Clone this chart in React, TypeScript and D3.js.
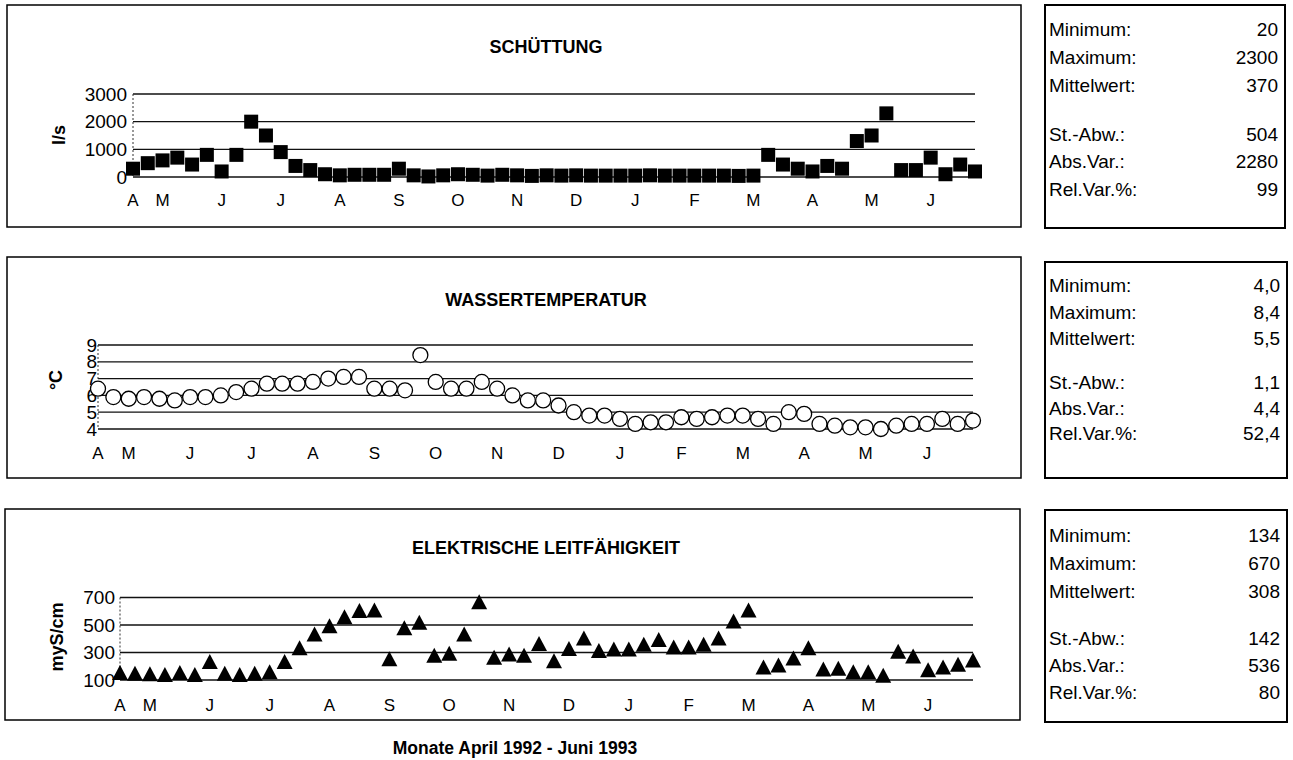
import React from 'react';
import * as d3 from 'd3';

// month labels on the category axis and the category index each one sits at
const monthLabels = ['A', 'M', 'J', 'J', 'A', 'S', 'O', 'N', 'D', 'J', 'F', 'M', 'A', 'M', 'J'];
const monthIndex = [0, 2, 6, 10, 14, 18, 22, 26, 30, 34, 38, 42, 46, 50, 54];

// Schüttung l/s
const schuettung = [
  300, 500, 600, 700, 450, 800, 200, 800, 2000, 1500, 900, 400, 250, 100, 60, 80, 80, 80, 300, 60,
  20, 60, 100, 80, 50, 80, 60, 40, 60, 50, 60, 50, 50, 50, 50, 60, 50, 50, 50, 50,
  50, 40, 50, 800, 450, 300, 200, 400, 300, 1300, 1500, 2300, 250, 250, 700, 100, 450, 200
];

// Wassertemperatur °C
const temperatur = [
  6.4, 5.9, 5.8, 5.9, 5.8, 5.7, 5.9, 5.9, 6.0, 6.2, 6.4, 6.7, 6.7, 6.7, 6.8, 7.0, 7.1, 7.1, 6.4, 6.4,
  6.3, 8.4, 6.8, 6.4, 6.4, 6.8, 6.4, 6.0, 5.7, 5.7, 5.4, 5.0, 4.8, 4.8, 4.6, 4.3, 4.4, 4.4, 4.7, 4.6,
  4.7, 4.8, 4.8, 4.6, 4.3, 5.0, 4.9, 4.3, 4.2, 4.1, 4.1, 4.0, 4.2, 4.3, 4.3, 4.6, 4.3, 4.5
];

// elektrische Leitfähigkeit myS/cm
const leitfaehigkeit = [
  155, 150, 145, 140, 155, 140, 235, 150, 140, 150, 160, 235, 335, 435, 495, 560, 605, 610, 255, 480,
  520, 280, 295, 435, 670, 265, 290, 280, 365, 240, 330, 405, 315, 325, 325, 360, 395, 340, 340, 360,
  405, 530, 610, 195, 210, 260, 335, 180, 185, 160, 160, 134, 310, 275, 175, 195, 215, 245
];

const ticksSchuettung = [0, 1000, 2000, 3000];
const ticksTemperatur = [4, 5, 6, 7, 8, 9];
const ticksLeitfaehigkeit = [100, 300, 500, 700];

const statLabels = ['Minimum:', 'Maximum:', 'Mittelwert:', 'St.-Abw.:', 'Abs.Var.:', 'Rel.Var.%:'];
const statsSchuettung = ['20', '2300', '370', '504', '2280', '99'];
const statsTemperatur = ['4,0', '8,4', '5,5', '1,1', '4,4', '52,4'];
const statsLeitfaehigkeit = ['134', '670', '308', '142', '536', '80'];

const FONT = '"Liberation Sans", Arial, Helvetica, sans-serif';

type Marker = 'square' | 'circle' | 'triangle';

type PanelProps = {
  title: string;
  unit: string;
  values: number[];
  ticks: number[];
  marker: Marker;
  box: [number, number, number, number]; // x0 y0 x1 y1
  plot: [number, number, number, number]; // x0 x1 yTop yBottom
  titleY: number;
  unitX: number;
  unitY: number;
  labelY: number;
  tickRight: number;
  stats: string[];
  statBox: [number, number, number, number];
  statRows: number[];
};

function Panel(p: PanelProps) {
  const [px0, px1, py0, py1] = p.plot;
  const x = d3.scalePoint<number>().domain(d3.range(p.values.length)).range([px0, px1]);
  const y = d3.scaleLinear().domain(d3.extent(p.ticks) as [number, number]).range([py1, py0]);
  const titleX = 546;

  const markers = p.values.map((v, i) => {
    const cx = x(i) as number;
    const cy = y(v);
    if (p.marker === 'square') {
      return <rect key={i} x={cx - 7} y={cy - 7} width={14} height={14} fill="#000" />;
    }
    if (p.marker === 'circle') {
      return <circle key={i} cx={cx} cy={cy} r={7.5} fill="#fff" stroke="#000" strokeWidth={1.3} />;
    }
    return (
      <path key={i} d={`M${cx},${cy - 7.5}L${cx + 8},${cy + 7.5}L${cx - 8},${cy + 7.5}Z`} fill="#000" />
    );
  });

  const [sx0, sy0, sx1, sy1] = p.statBox;

  return (
    <g>
      <rect x={p.box[0]} y={p.box[1]} width={p.box[2] - p.box[0]} height={p.box[3] - p.box[1]}
        fill="none" stroke="#000" strokeWidth={1.5} />
      <text x={titleX} y={p.titleY} textAnchor="middle" dominantBaseline="central"
        fontFamily={FONT} fontWeight="bold" fontSize={18}>{p.title}</text>
      <text transform={`translate(${p.unitX},${p.unitY}) rotate(-90)`} textAnchor="middle"
        dominantBaseline="central" fontFamily={FONT} fontWeight="bold" fontSize={18}>{p.unit}</text>
      {p.ticks.map((t) => (
        <g key={t}>
          <line x1={px0} x2={px1} y1={y(t)} y2={y(t)} stroke="#111" strokeWidth={1.3} />
          <text x={p.tickRight} y={y(t)} textAnchor="end" dominantBaseline="central"
            fontFamily={FONT} fontSize={19}>{t}</text>
        </g>
      ))}
      <line x1={px0} x2={px0} y1={py0} y2={py1} stroke="#333" strokeWidth={1} strokeDasharray="2,2" />
      {monthIndex.map((mi, k) => (
        <text key={k} x={x(mi) as number} y={p.labelY} textAnchor="middle" dominantBaseline="central"
          fontFamily={FONT} fontSize={17}>{monthLabels[k]}</text>
      ))}
      {markers}
      <rect x={sx0} y={sy0} width={sx1 - sx0} height={sy1 - sy0} fill="none" stroke="#000" strokeWidth={2} />
      {statLabels.map((l, i) => (
        <g key={l}>
          <text x={sx0 + 4} y={p.statRows[i]} dominantBaseline="central" fontFamily={FONT} fontSize={19}>{l}</text>
          <text x={sx1 - 7} y={p.statRows[i]} textAnchor="end" dominantBaseline="central"
            fontFamily={FONT} fontSize={19}>{p.stats[i]}</text>
        </g>
      ))}
    </g>
  );
}

export default function App() {
  return (
    <svg width={1293} height={760} style={{ position: 'absolute', left: 0, top: 0, background: '#fff' }}>
      <Panel title="SCHÜTTUNG" unit="l/s" values={schuettung} ticks={ticksSchuettung} marker="square"
        box={[7, 5, 1021, 227]} plot={[133, 975, 94, 177]} titleY={47} unitX={59} unitY={135}
        labelY={200} tickRight={127} stats={statsSchuettung} statBox={[1045, 5, 1285, 228]}
        statRows={[29, 57, 85, 134, 161, 189]} />
      <Panel title="WASSERTEMPERATUR" unit="°C" values={temperatur} ticks={ticksTemperatur} marker="circle"
        box={[7, 257, 1021, 478]} plot={[98, 973, 345, 429]} titleY={300} unitX={56} unitY={380}
        labelY={453} tickRight={97} stats={statsTemperatur} statBox={[1045, 262, 1287, 478]}
        statRows={[285, 312, 338, 382, 408, 433]} />
      <Panel title="ELEKTRISCHE LEITFÄHIGKEIT" unit="myS/cm" values={leitfaehigkeit} ticks={ticksLeitfaehigkeit}
        marker="triangle" box={[5, 509, 1020, 720]} plot={[120, 973, 597.5, 680]} titleY={548} unitX={57}
        unitY={637} labelY={705} tickRight={115} stats={statsLeitfaehigkeit} statBox={[1045, 510, 1287, 722]}
        statRows={[535, 563, 591, 638, 665, 692]} />
      <text x={515} y={748} textAnchor="middle" dominantBaseline="central" fontFamily={FONT}
        fontWeight="bold" fontSize={17.5}>Monate  April 1992 - Juni 1993</text>
    </svg>
  );
}
